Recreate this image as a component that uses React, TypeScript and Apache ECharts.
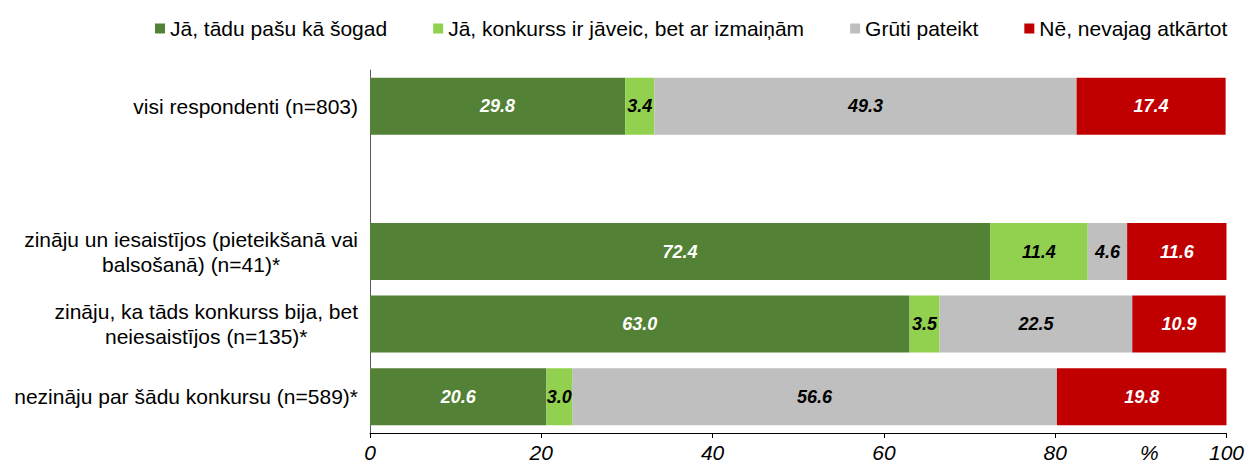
import React, { useEffect, useRef } from "react";
import * as echarts from "echarts";

const categories = [
  "visi respondenti (n=803)",
  "",
  "zināju un iesaistījos (pieteikšanā vai\nbalsošanā) (n=41)*",
  "zināju, ka tāds konkurss bija, bet\nneiesaistījos (n=135)*",
  "nezināju par šādu konkursu (n=589)*",
];

const seriesNames = [
  "Jā, tādu pašu kā šogad",
  "Jā, konkurss ir jāveic, bet ar izmaiņām",
  "Grūti pateikt",
  "Nē, nevajag atkārtot",
];

const sameAgain = [29.8, null, 72.4, 63.0, 20.6];
const withChanges = [3.4, null, 11.4, 3.5, 3.0];
const hardToSay = [49.3, null, 4.6, 22.5, 56.6];
const noRepeat = [17.4, null, 11.6, 10.9, 19.8];

const seriesValues = [sameAgain, withChanges, hardToSay, noRepeat];
const seriesColors = ["#538135", "#92D050", "#BFBFBF", "#C00000"];
const labelColors = ["#FFFFFF", "#000000", "#000000", "#FFFFFF"];

const xTickValues = [0, 20, 40, 60, 80, 100];
const xLabelValues = [0, 20, 40, 60, 80, 91, 100];
const percentPos = 91;

const FONT = "'Liberation Sans', Arial, sans-serif";

export default function App() {
  const ref = useRef<HTMLDivElement>(null);

  useEffect(() => {
    if (!ref.current) return;
    const chart = echarts.init(ref.current, null, { renderer: "svg" });
    chart.setOption({
      animation: false,
      textStyle: { fontFamily: FONT },
      legend: {
        top: 13,
        left: 150,
        itemWidth: 10,
        itemHeight: 10,
        itemGap: 46,
        icon: "rect",
        textStyle: { fontFamily: FONT, fontSize: 21, color: "#000" },
        data: seriesNames,
      },
      grid: { left: 370, right: 20, top: 70, bottom: 32, containLabel: false },
      xAxis: {
        type: "value",
        min: 0,
        max: 100,
        interval: 20,
        splitLine: { show: false },
        axisLine: { show: true, lineStyle: { color: "#000", width: 1 } },
        axisTick: {
          show: true,
          length: 5,
          lineStyle: { color: "#000" },
          customValues: xTickValues,
        },
        axisLabel: {
          customValues: xLabelValues,
          formatter: (v: number) => (v === percentPos ? "%" : String(v)),
          fontFamily: FONT,
          fontSize: 21,
          fontStyle: "italic",
          color: "#000",
          margin: 9,
        },
      },
      yAxis: {
        type: "category",
        inverse: true,
        data: categories,
        axisLine: { show: true, lineStyle: { color: "#595959", width: 1 } },
        axisTick: { show: false },
        axisLabel: {
          margin: 12,
          interval: 0,
          formatter: (v: string) =>
            v
              .split("\n")
              .map((l) => (l ? `{c|${l}}` : ""))
              .join("\n"),
          rich: {
            c: {
              align: "center",
              fontFamily: FONT,
              fontSize: 21,
              lineHeight: 25,
              color: "#000",
            },
          },
        },
      },
      series: seriesNames.map((name, i) => ({
        name,
        type: "bar",
        stack: "total",
        barWidth: 57,
        data: seriesValues[i],
        itemStyle: { color: seriesColors[i] },
        label: {
          show: true,
          position: "inside",
          formatter: (p: any) =>
            p.value == null ? "" : Number(p.value).toFixed(1),
          fontFamily: FONT,
          fontSize: 18,
          fontWeight: "bold",
          fontStyle: "italic",
          color: labelColors[i],
        },
      })),
    });
    return () => chart.dispose();
  }, []);

  return (
    <div
      ref={ref}
      style={{ position: "absolute", left: 0, top: 0, width: 1247, height: 465, background: "#fff" }}
    />
  );
}
